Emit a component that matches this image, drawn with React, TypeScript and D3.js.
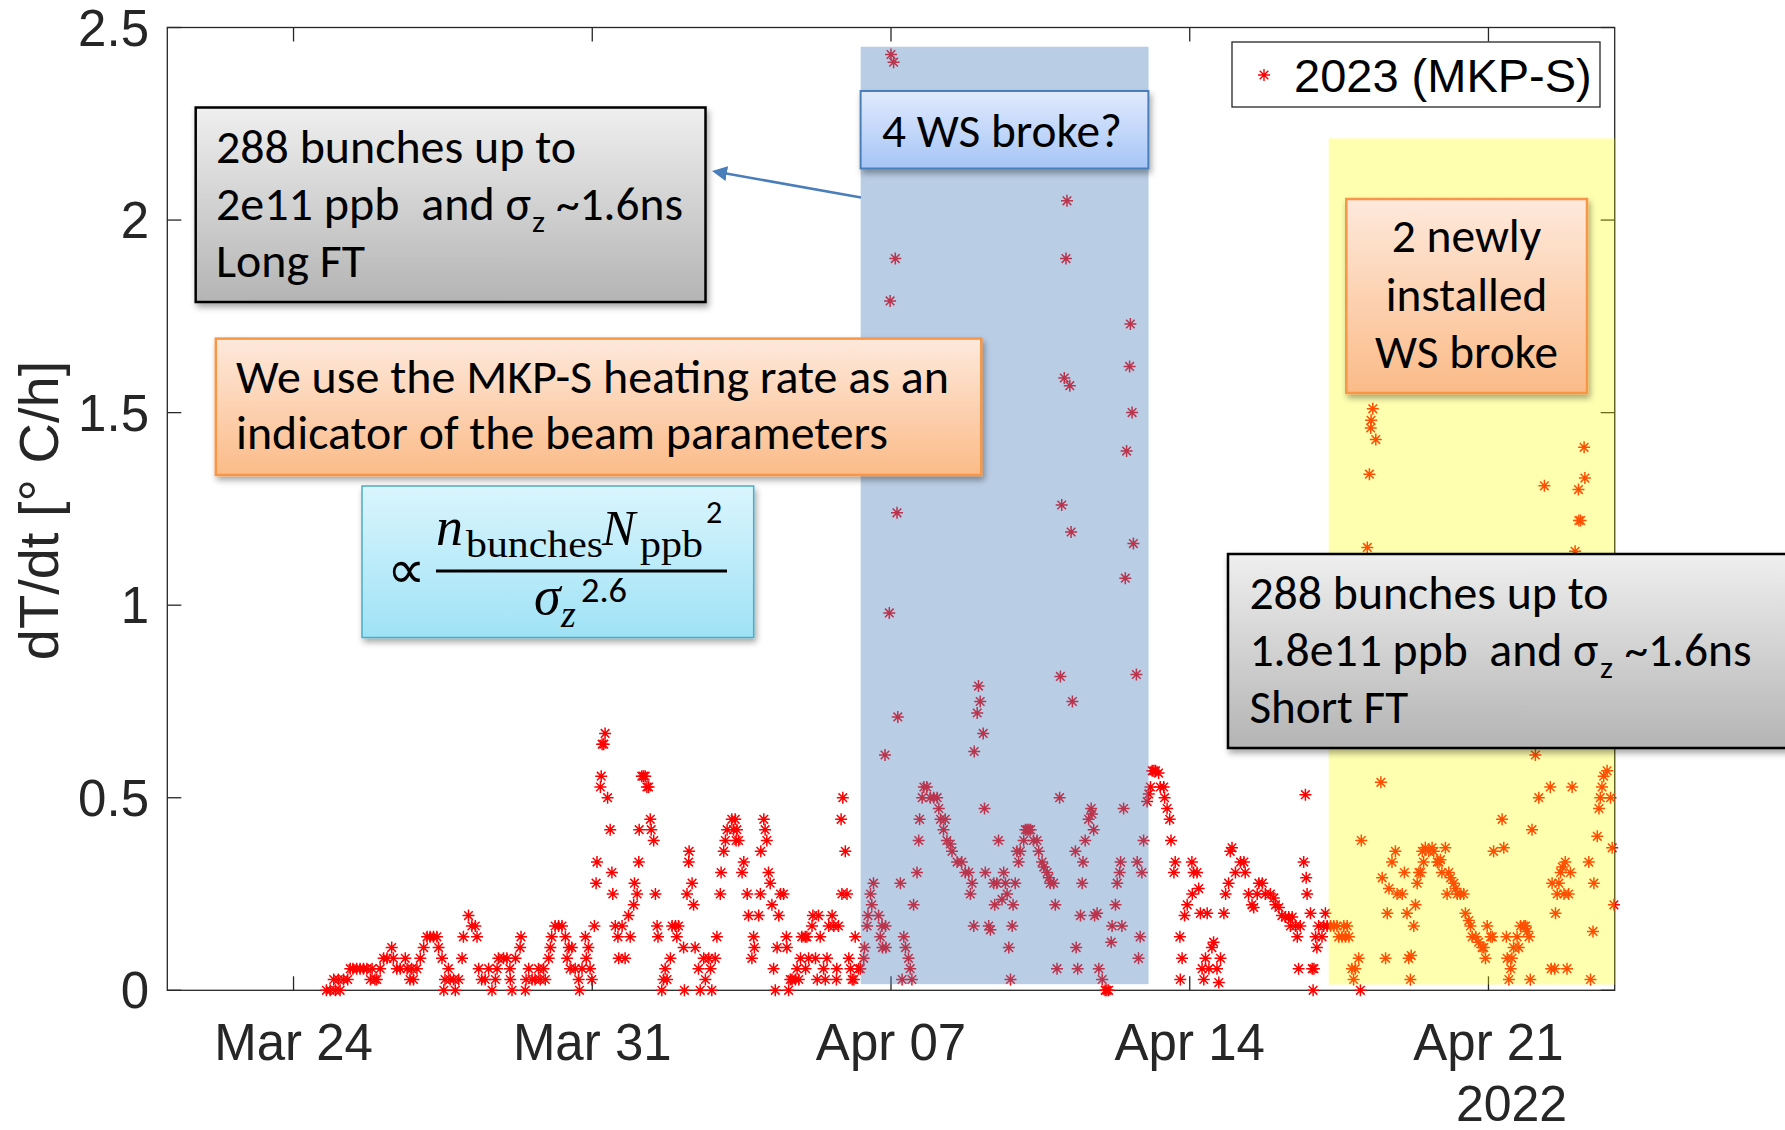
import React from 'react';
import * as d3 from 'd3';

// heating rate samples: [days after 24 Mar 2022 00:00, dT/dt in °C/h]
const week1: [number, number][] = [
  [0.77, 0], [0.86, 0], [0.94, 0.028], [0.98, 0], [1.05, 0.028], [1.09, 0], [1.17, 0.028], [1.27, 0.028],
  [1.33, 0.056], [1.39, 0.056], [1.48, 0.056], [1.56, 0.056], [1.64, 0.056], [1.72, 0.056], [1.8, 0.028],
  [1.84, 0.056], [1.91, 0.028], [1.95, 0.028], [2.03, 0.056], [2.11, 0.083], [2.19, 0.083], [2.3, 0.111],
  [2.34, 0.083], [2.42, 0.056], [2.5, 0.056], [2.62, 0.083], [2.66, 0.056], [2.73, 0.028], [2.77, 0.056],
  [2.81, 0.028], [2.89, 0.056], [2.97, 0.083], [3.05, 0.111], [3.13, 0.139], [3.2, 0.139], [3.28, 0.139],
  [3.36, 0.139], [3.4, 0.111], [3.48, 0.083], [3.52, 0], [3.55, 0.028], [3.63, 0.056], [3.67, 0.028],
  [3.75, 0.028], [3.79, 0], [3.87, 0.028], [3.95, 0.083], [3.98, 0.139], [4.1, 0.194], [4.18, 0.167],
  [4.26, 0.167], [4.3, 0.139], [4.34, 0.056], [4.41, 0.028], [4.49, 0.028], [4.57, 0.056], [4.65, 0],
  [4.73, 0.028], [4.77, 0.056], [4.8, 0.083], [4.92, 0.083], [5.0, 0.083], [5.07, 0.056], [5.08, 0.028],
  [5.12, 0], [5.2, 0.083], [5.31, 0.111], [5.33, 0.139], [5.43, 0], [5.45, 0.028], [5.51, 0.056],
  [5.59, 0.028], [5.66, 0.028], [5.74, 0.056], [5.78, 0.028], [5.86, 0.056], [5.9, 0.028], [5.98, 0.083],
  [6.02, 0.111], [6.05, 0.139], [6.13, 0.167], [6.21, 0.167], [6.29, 0.167], [6.37, 0.139], [6.41, 0.083],
  [6.45, 0.111], [6.48, 0.056], [6.52, 0.111], [6.6, 0.056], [6.68, 0.028], [6.7, 0], [6.76, 0.056],
  [6.84, 0.139], [6.86, 0.083], [6.91, 0.111], [6.95, 0.056], [6.99, 0.028],
];

const week2: [number, number][] = [
  [7.05, 0.167], [7.09, 0.278], [7.11, 0.333], [7.19, 0.528], [7.21, 0.556], [7.23, 0.639], [7.27, 0.639],
  [7.3, 0.667], [7.36, 0.5], [7.42, 0.417], [7.46, 0.306], [7.48, 0.25], [7.54, 0.167], [7.6, 0.139],
  [7.62, 0.083], [7.7, 0.167], [7.77, 0.083], [7.85, 0.194], [7.89, 0.139], [7.97, 0.222], [7.99, 0.278],
  [8.05, 0.25], [8.09, 0.333], [8.1, 0.417], [8.16, 0.556], [8.2, 0.556], [8.24, 0.556], [8.28, 0.528],
  [8.32, 0.528], [8.36, 0.444], [8.38, 0.417], [8.44, 0.389], [8.48, 0.25], [8.52, 0.167], [8.54, 0.139],
  [8.63, 0], [8.67, 0.028], [8.71, 0.056], [8.75, 0.028], [8.83, 0.083], [8.87, 0.167], [8.95, 0.167],
  [8.98, 0.139], [9.02, 0.167], [9.14, 0.111], [9.16, 0], [9.22, 0.25], [9.26, 0.333], [9.27, 0.361],
  [9.34, 0.278], [9.375, 0.222], [9.41, 0.111], [9.49, 0.056], [9.53, 0], [9.61, 0.083], [9.65, 0.028],
  [9.73, 0.083], [9.77, 0.056], [9.8, 0], [9.88, 0.083], [9.92, 0.139], [10.0, 0.25], [10.02, 0.306],
  [10.08, 0.361], [10.12, 0.389], [10.16, 0.417], [10.27, 0.444], [10.31, 0.417], [10.35, 0.444],
  [10.37, 0.389], [10.39, 0.417], [10.43, 0.389], [10.51, 0.306], [10.55, 0.333], [10.63, 0.25],
  [10.66, 0.194], [10.74, 0.083], [10.78, 0.139], [10.8, 0.111], [10.9, 0.194], [10.94, 0.25],
  [10.95, 0.361], [11.02, 0.444], [11.05, 0.417], [11.09, 0.389], [11.13, 0.306], [11.17, 0.278],
  [11.21, 0.222], [11.25, 0.056], [11.29, 0], [11.33, 0.111], [11.37, 0.194], [11.41, 0.25], [11.48, 0.25],
  [11.55, 0.139], [11.56, 0.111], [11.6, 0], [11.64, 0.028], [11.68, 0.028], [11.76, 0.028], [11.8, 0.056],
  [11.84, 0.028], [11.88, 0.083], [11.91, 0.139], [11.99, 0.139], [12.0, 0.056], [12.03, 0.139],
  [12.07, 0.083], [12.15, 0.167], [12.17, 0.194], [12.23, 0.083], [12.27, 0.028], [12.3, 0.194],
  [12.34, 0.139], [12.42, 0.056], [12.46, 0.028], [12.5, 0.083], [12.54, 0.167], [12.62, 0.194],
  [12.66, 0.167], [12.72, 0.028], [12.73, 0.056], [12.77, 0.167], [12.83, 0.444], [12.85, 0.25],
  [12.87, 0.5], [12.93, 0.361], [12.97, 0.25], [13.01, 0.083], [13.05, 0.056], [13.09, 0.028],
  [13.13, 0.028], [13.16, 0.139], [13.24, 0.056], [13.28, 0.056], [13.36, 0.083], [13.38, 0.111],
  [13.44, 0.167], [13.46, 0.194], [13.52, 0.25], [13.55, 0.222], [13.59, 0.278], [13.71, 0.194],
  [13.75, 0.139], [13.79, 0.167], [13.8, 0.111], [13.86, 0.611], [13.87, 0.167], [13.88, 0.111],
];

const week3: [number, number][] = [
  [14.16, 0.71], [14.22, 0.278], [14.26, 0.028], [14.3, 0.139], [14.34, 0.111], [14.41, 0.083],
  [14.45, 0.056], [14.49, 0.028], [14.53, 0.222], [14.61, 0.306], [14.65, 0.389], [14.67, 0.444],
  [14.73, 0.5], [14.77, 0.528], [14.84, 0.528], [14.92, 0.5], [15.0, 0.5], [15.08, 0.5], [15.12, 0.472],
  [15.16, 0.444], [15.23, 0.417], [15.27, 0.444], [15.31, 0.389], [15.39, 0.38], [15.43, 0.361],
  [15.55, 0.333], [15.66, 0.333], [15.74, 0.306], [15.82, 0.306], [15.86, 0.25], [15.9, 0.278],
  [15.94, 0.167], [15.95, 0.62], [16.02, 0.72], [16.05, 0.79], [16.09, 0.75], [16.16, 0.667],
  [16.19, 0.472], [16.21, 0.306], [16.29, 0.167], [16.33, 0.157], [16.41, 0.278], [16.43, 0.222],
  [16.48, 0.278], [16.52, 0.389], [16.6, 0.236], [16.64, 0.306], [16.68, 0.278], [16.72, 0.25],
  [16.76, 0.111], [16.8, 0.028], [16.84, 0.167], [16.86, 0.222], [16.91, 0.278], [16.95, 0.361],
  [16.99, 0.333], [17.03, 0.361], [17.11, 0.389], [17.15, 0.417], [17.19, 0.417], [17.23, 0.417],
  [17.27, 0.417], [17.34, 0.389], [17.42, 0.389], [17.46, 0.361], [17.54, 0.333], [17.58, 0.32],
  [17.66, 0.306], [17.7, 0.292], [17.73, 0.278], [17.81, 0.278], [17.85, 0.222], [17.89, 0.056],
  [17.95, 0.5], [18.32, 0.361], [18.34, 0.111], [18.375, 0.056], [18.44, 0.194], [18.48, 0.278],
  [18.5, 0.333], [18.55, 0.389], [18.63, 0.444], [18.69, 0.472], [18.71, 0.458], [18.75, 0.417],
  [18.77, 0.194], [18.83, 0.2], [18.87, 0.056], [18.95, 0.028], [19.02, 0], [19.06, 0], [19.1, 0],
  [19.16, 0.125], [19.18, 0.167], [19.26, 0.222], [19.3, 0.278], [19.36, 0.306], [19.38, 0.333],
  [19.41, 0.167], [19.45, 0.472], [19.77, 0.333], [19.8, 0.083], [19.84, 0.139], [19.88, 0.306],
  [19.92, 0.389], [20.0, 0.49], [20.04, 0.51], [20.08, 0.528], [20.12, 0.57], [20.16, 0.57], [20.2, 0.57],
  [20.27, 0.564], [20.31, 0.528], [20.39, 0.528], [20.41, 0.5], [20.47, 0.472], [20.53, 0.444],
  [20.56, 0.389], [20.63, 0.306], [20.66, 0.333], [20.77, 0.139], [20.78, 0.028], [20.82, 0.083],
  [20.88, 0.194], [20.94, 0.222],
];

const week4: [number, number][] = [
  [21.05, 0.333], [21.06, 0.25], [21.09, 0.306], [21.17, 0.306], [21.21, 0.264], [21.25, 0.2],
  [21.29, 0.056], [21.33, 0.028], [21.37, 0.083], [21.41, 0.2], [21.45, 0.056], [21.52, 0.111],
  [21.56, 0.125], [21.64, 0.056], [21.68, 0.02], [21.72, 0.083], [21.8, 0.2], [21.84, 0.25], [21.91, 0.278],
  [21.95, 0.361], [21.99, 0.37], [22.07, 0.306], [22.19, 0.333], [22.27, 0.333], [22.3, 0.306],
  [22.38, 0.25], [22.46, 0.222], [22.5, 0.215], [22.58, 0.25], [22.62, 0.278], [22.7, 0.278], [22.77, 0.25],
  [22.89, 0.25], [22.97, 0.24], [23.01, 0.222], [23.09, 0.215], [23.16, 0.194], [23.24, 0.19],
  [23.32, 0.19], [23.36, 0.167], [23.4, 0.19], [23.48, 0.167], [23.52, 0.139], [23.55, 0.056],
  [23.59, 0.167], [23.67, 0.333], [23.71, 0.508], [23.73, 0.292], [23.75, 0.25], [23.83, 0.2],
  [23.87, 0.056], [23.89, 0], [23.91, 0.056], [23.95, 0.139], [23.98, 0.111], [24.02, 0.167],
  [24.1, 0.139], [24.14, 0.167], [24.18, 0.2], [24.22, 0.167], [24.3, 0.167], [24.375, 0.167],
  [24.45, 0.167], [24.49, 0.139], [24.57, 0.139], [24.61, 0.167], [24.65, 0.139], [24.69, 0.167],
  [24.73, 0.139], [24.8, 0.056], [24.84, 0.028], [24.88, 0.056], [24.96, 0.083], [25.0, 0], [25.02, 0.389],
  [25.48, 0.54], [25.51, 0.292], [25.59, 0.083], [25.63, 0.2], [25.67, 0.264], [25.74, 0.333],
  [25.82, 0.361], [25.86, 0.25], [25.98, 0.25], [26.03, 0.306], [26.09, 0.2], [26.13, 0.083], [26.17, 0.028],
  [26.19, 0.09], [26.25, 0.167], [26.29, 0.222], [26.33, 0.278], [26.37, 0.306], [26.41, 0.306],
  [26.45, 0.361], [26.48, 0.333], [26.52, 0.37], [26.6, 0.361], [26.68, 0.37], [26.72, 0.361],
  [26.8, 0.333], [26.84, 0.333], [26.875, 0.339], [26.91, 0.306], [26.99, 0.37], [27.03, 0.25],
  [27.07, 0.306], [27.11, 0.292], [27.19, 0.278], [27.23, 0.264], [27.27, 0.25], [27.34, 0.25],
  [27.42, 0.25], [27.46, 0.2], [27.54, 0.181], [27.58, 0.167], [27.62, 0.139], [27.7, 0.139],
  [27.77, 0.125], [27.85, 0.111], [27.89, 0.111], [27.93, 0.083], [27.97, 0.167], [28.05, 0.139],
  [28.09, 0.139], [28.12, 0.361], [28.32, 0.444], [28.36, 0.37], [28.42, 0.139], [28.44, 0.083],
  [28.48, 0.028], [28.52, 0.056], [28.55, 0.083], [28.59, 0.111], [28.67, 0.139], [28.71, 0.111],
  [28.75, 0.167], [28.83, 0.167], [28.87, 0.167], [28.91, 0.153], [28.95, 0.139], [28.98, 0.028],
  [29.02, 0.417], [29.1, 0.611], [29.18, 0.5], [29.45, 0.528], [29.47, 0.056], [29.49, 0.278],
  [29.55, 0.056], [29.57, 0.2], [29.61, 0.25], [29.65, 0.278], [29.69, 0.306], [29.73, 0.32], [29.77, 0.25],
  [29.8, 0.333], [29.84, 0.056], [29.88, 0.25], [29.92, 0.306], [29.96, 0.528], [30.35, 0.333],
  [30.39, 0.028], [30.45, 0.153], [30.47, 0.278], [30.55, 0.4], [30.59, 0.472], [30.62, 0.5], [30.66, 0.528],
  [30.7, 0.556], [30.78, 0.57], [30.86, 0.5], [30.9, 0.37], [30.94, 0.222],
];

// isolated high readings (wire scanner trouble)
const spikes: [number, number][] = [
  [13.96, 0.98], [13.98, 1.79], [14.0, 2.43], [14.06, 2.41], [14.1, 1.9], [14.14, 1.24], [17.97, 0.815],
  [18.0, 1.26], [18.06, 1.59], [18.1, 1.9], [18.125, 2.05], [18.19, 1.57], [18.22, 1.19], [18.25, 0.75],
  [19.49, 1.07], [19.52, 1.4], [19.59, 1.62], [19.61, 1.73], [19.65, 1.5], [19.68, 1.16], [19.75, 0.82],
  [25.16, 1.15], [25.21, 1.34], [25.24, 1.46], [25.25, 1.48], [25.29, 1.51], [25.36, 1.43], [29.31, 1.31],
  [30.03, 1.14], [30.11, 1.3], [30.12, 1.22], [30.16, 1.22], [30.24, 1.41], [30.26, 1.33],
];

const xTickDays = [0, 7, 14, 21, 28];
const yTicks = [0, 0.5, 1, 1.5, 2, 2.5];
// shaded periods, in days after 24 Mar and °C/h
const wsBrokeSpan = { from: 13.29, to: 20.035, low: 0.016, high: 2.45 };
const newWsSpan = { from: 24.255, to: 30.96, low: 0.015, high: 2.212 };

const W = 1785;
const H = 1130;
const t0 = new Date(2022, 2, 24);
const at = (d: number) => new Date(t0.getTime() + d * 864e5);

const x = d3.scaleTime().domain([at(-2.958), at(30.958)]).range([167.3, 1614.7]);
const y = d3.scaleLinear().domain([0, 2.5]).range([990.3, 27.5]);
const fmt = d3.timeFormat('%b %d');

const axisFont = "'Liberation Sans', Arial, Helvetica, sans-serif";
const boxFont = "Carlito, Calibri, 'Open Sans', sans-serif";
const mathFont = "'Liberation Serif', 'Times New Roman', serif";
const ink = '#262626';

const star = 'M0,-6V6M-6,0H6M-4.3,-4.3L4.3,4.3M-4.3,4.3L4.3,-4.3';

const allPoints = [...week1, ...week2, ...week3, ...week4, ...spikes];

const [x0, x1] = x.range();
const [yb, yt] = y.range();

function Line({ x: tx, y: ty, w, size = 48, anchor = 'start', children }: any) {
  return (
    <text x={tx} y={ty} fontSize={size} fontFamily={boxFont} textAnchor={anchor} style={{ whiteSpace: 'pre' }}
      textLength={w} lengthAdjust="spacingAndGlyphs" fill="#000">{children}</text>
  );
}

export default function App() {
  return (
    <svg width={W} height={H} style={{ position: 'absolute', left: 0, top: 0, background: '#fff' }}>
      <defs>
        <linearGradient id="gGray" x1="0" y1="0" x2="0" y2="1">
          <stop offset="0" stopColor="#efefef" />
          <stop offset="1" stopColor="#b4b4b4" />
        </linearGradient>
        <linearGradient id="gBlue" x1="0" y1="0" x2="0" y2="1">
          <stop offset="0" stopColor="#e1eafd" />
          <stop offset="1" stopColor="#a6c5f6" />
        </linearGradient>
        <linearGradient id="gOrange" x1="0" y1="0" x2="0" y2="1">
          <stop offset="0" stopColor="#fee9dc" />
          <stop offset="1" stopColor="#fbbb88" />
        </linearGradient>
        <linearGradient id="gCyan" x1="0" y1="0" x2="0" y2="1">
          <stop offset="0" stopColor="#daf5fd" />
          <stop offset="1" stopColor="#9fe2f6" />
        </linearGradient>
        <filter id="shadow" x="-5%" y="-10%" width="115%" height="130%">
          <feDropShadow dx="2" dy="4" stdDeviation="3" floodColor="#000" floodOpacity="0.35" />
        </filter>
        <marker id="arrowHead" viewBox="0 0 10 10" refX="8" refY="5" markerWidth="6" markerHeight="6"
          markerUnits="strokeWidth" orient="auto">
          <path d="M0,0L10,5L0,10z" fill="#4a7ebb" />
        </marker>
      </defs>

      {/* axes box */}
      <rect x={x0} y={yt} width={x1 - x0} height={yb - yt} fill="#fff" stroke={ink} strokeWidth={1.3} />
      {xTickDays.map(d => (
        <g key={d}>
          <line x1={x(at(d))} x2={x(at(d))} y1={yb} y2={yb - 14} stroke={ink} strokeWidth={1.3} />
          <line x1={x(at(d))} x2={x(at(d))} y1={yt} y2={yt + 14} stroke={ink} strokeWidth={1.3} />
          <text x={x(at(d))} y={1060} textAnchor="middle" fontSize={51} fontFamily={axisFont} fill={ink}>
            {fmt(at(d))}
          </text>
        </g>
      ))}
      <text x={1511.5} y={1121} textAnchor="middle" fontSize={50} fontFamily={axisFont} fill={ink}>2022</text>
      {yTicks.map(v => (
        <g key={v}>
          <line x1={x0} x2={x0 + 14} y1={y(v)} y2={y(v)} stroke={ink} strokeWidth={1.3} />
          <line x1={x1} x2={x1 - 14} y1={y(v)} y2={y(v)} stroke={ink} strokeWidth={1.3} />
          <text x={149} y={y(v) + 18} textAnchor="end" fontSize={51} fontFamily={axisFont} fill={ink}>{v}</text>
        </g>
      ))}
      <text transform="translate(58,510.5) rotate(-90)" textAnchor="middle" fontSize={56} fontFamily={axisFont} fill={ink}>
        dT/dt [° C/h]
      </text>

      {/* data */}
      <g stroke="#ff0000" strokeWidth={1.5} fill="none">
        {allPoints.filter(p => at(p[0]) <= x.domain()[1]).map((p, i) => (
          <path key={i} d={star} transform={`translate(${x(at(p[0])).toFixed(1)},${y(p[1]).toFixed(1)})`} />
        ))}
      </g>

      {/* shaded periods */}
      <rect x={x(at(wsBrokeSpan.from))} y={y(wsBrokeSpan.high)}
        width={x(at(wsBrokeSpan.to)) - x(at(wsBrokeSpan.from))} height={y(wsBrokeSpan.low) - y(wsBrokeSpan.high)}
        fill="#4f81bd" fillOpacity={0.4} />
      <rect x={x(at(newWsSpan.from))} y={y(newWsSpan.high)}
        width={x(at(newWsSpan.to)) - x(at(newWsSpan.from))} height={y(newWsSpan.low) - y(newWsSpan.high)}
        fill="#ffff00" fillOpacity={0.31} />

      {/* legend */}
      <rect x={1232} y={42} width={368} height={65} fill="#fff" stroke={ink} strokeWidth={1.3} />
      <path d={star} transform="translate(1264,75)" stroke="#ff0000" strokeWidth={1.4} fill="none" />
      <text x={1294} y={92} fontSize={47} fontFamily={axisFont} fill="#000">2023 (MKP-S)</text>

      {/* arrow */}
      <line x1={861} y1={197.5} x2={715} y2={171.5} stroke="#4a7ebb" strokeWidth={2.5} markerEnd="url(#arrowHead)" />

      {/* Long FT box */}
      <g filter="url(#shadow)">
        <rect x={195.7} y={107.5} width={509.8} height={194.5} fill="url(#gGray)" stroke="#000" strokeWidth={2.5} />
      </g>
      <Line x={216} y={163} w={360}>288 bunches up to</Line>
      <Line x={216} y={220} w={315}>{'2e11 ppb  and σ'}</Line>
      <Line x={532} y={232} w={13} size={30}>z</Line>
      <Line x={556} y={220} w={127}>~1.6ns</Line>
      <Line x={216} y={277} w={149}>Long FT</Line>

      {/* 4 WS broke */}
      <g filter="url(#shadow)">
        <rect x={860.6} y={91} width={287.8} height={77.5} fill="url(#gBlue)" stroke="#4a7ebb" strokeWidth={2} />
      </g>
      <Line x={882} y={147} w={240}>4 WS broke?</Line>

      {/* MKP-S indicator */}
      <g filter="url(#shadow)">
        <rect x={215.8} y={338.6} width={765.5} height={136.4} fill="url(#gOrange)" stroke="#f79646" strokeWidth={2.5} />
      </g>
      <Line x={236} y={393} w={713}>We use the MKP-S heating rate as an</Line>
      <Line x={236} y={449.4} w={652}>indicator of the beam parameters</Line>

      {/* scaling formula */}
      <g filter="url(#shadow)">
        <rect x={362} y={486} width={391.7} height={151.5} fill="url(#gCyan)" stroke="#4bacc6" strokeWidth={1.5} />
      </g>
      <text x={406} y={588} textAnchor="middle" fontSize={54} fontFamily={mathFont}>∝</text>
      <rect x={436} y={569.5} width={291} height={3} fill="#000" />
      <text x={436} y={545} fontSize={54} fontFamily={mathFont} fontStyle="italic">n</text>
      <text x={466} y={557} fontSize={38} fontFamily={mathFont} textLength={137} lengthAdjust="spacingAndGlyphs">bunches</text>
      <text x={602} y={545} fontSize={50} fontFamily={mathFont} fontStyle="italic">N</text>
      <text x={640} y={557} fontSize={38} fontFamily={mathFont} textLength={63} lengthAdjust="spacingAndGlyphs">ppb</text>
      <text x={706} y={523} fontSize={32} fontFamily={boxFont}>2</text>
      <text x={534} y={614} fontSize={54} fontFamily={mathFont} fontStyle="italic">σ</text>
      <text x={561} y={627} fontSize={38} fontFamily={mathFont} fontStyle="italic">z</text>
      <text x={581} y={602} fontSize={34} fontFamily={boxFont} textLength={46} lengthAdjust="spacingAndGlyphs">2.6</text>

      {/* newly installed WS */}
      <g filter="url(#shadow)">
        <rect x={1346.3} y={199} width={240.7} height={194} fill="url(#gOrange)" stroke="#f79646" strokeWidth={2.5} />
      </g>
      <Line x={1466.5} y={251.5} w={149.5} anchor="middle">2 newly</Line>
      <Line x={1466.5} y={310.5} w={161.6} anchor="middle">installed</Line>
      <Line x={1466.5} y={368} w={183} anchor="middle">WS broke</Line>

      {/* Short FT box */}
      <g filter="url(#shadow)">
        <rect x={1228} y={554} width={580} height={194} fill="url(#gGray)" stroke="#000" strokeWidth={2.5} />
      </g>
      <Line x={1249.4} y={609} w={359}>288 bunches up to</Line>
      <Line x={1249.4} y={665.5} w={349}>{'1.8e11 ppb  and σ'}</Line>
      <Line x={1600} y={677.5} w={13} size={30}>z</Line>
      <Line x={1624.5} y={665.5} w={127}>~1.6ns</Line>
      <Line x={1249.4} y={722.5} w={158.7}>Short FT</Line>
    </svg>
  );
}
